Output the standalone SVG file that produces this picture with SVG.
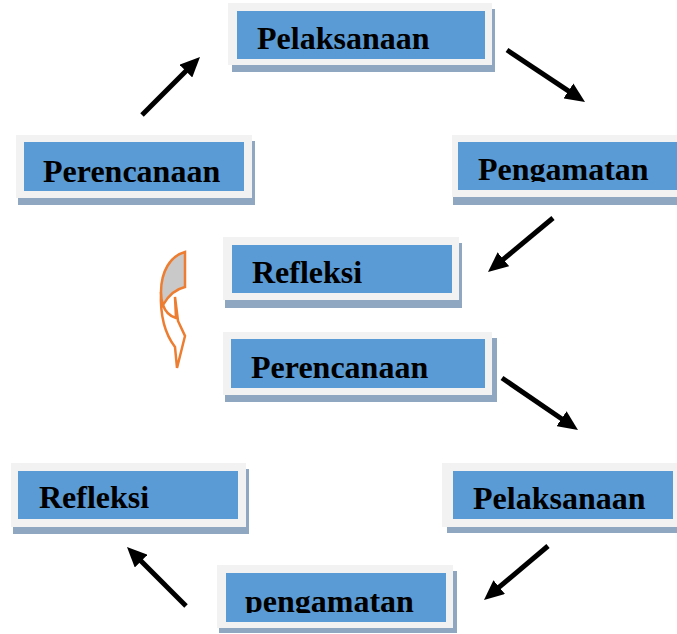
<svg xmlns="http://www.w3.org/2000/svg" width="677" height="634" viewBox="0 0 677 634">
<style>
.sh{fill:#8FA7C0}
.out{fill:#F2F2F2}
.in{fill:#5B9BD5}
.t{font-family:"Liberation Serif","Times New Roman",serif;font-weight:bold;font-size:32px;fill:#000}
.ar{stroke:#000;stroke-width:5;fill:none;marker-end:url(#ah)}
</style>
<defs>
<marker id="ah" markerUnits="userSpaceOnUse" markerWidth="20" markerHeight="18" refX="4" refY="9" orient="auto">
<path d="M0,0 L20,9 L0,18 z" fill="#000"/>
</marker>
<clipPath id="c3"><rect x="458" y="142" width="230" height="40"/></clipPath>
<clipPath id="c8"><rect x="226" y="573" width="220" height="40"/></clipPath>
</defs>
<rect width="677" height="634" fill="#fff"/>
<g id="n1">
<rect class="sh" x="232" y="9" width="263" height="63"/>
<rect class="out" x="228" y="3" width="264" height="62"/>
<rect class="in" x="237" y="11" width="248" height="48"/>
<text class="t" x="257" y="49">Pelaksanaan</text>
</g>
<g id="n2">
<rect class="sh" x="18" y="141" width="237" height="64"/>
<rect class="out" x="16" y="135" width="236" height="63"/>
<rect class="in" x="24" y="142" width="220" height="49"/>
<text class="t" x="43" y="182">Perencanaan</text>
</g>
<g id="n3">
<rect class="sh" x="453" y="141" width="240" height="64"/>
<rect class="out" x="452" y="135" width="240" height="62"/>
<rect class="in" x="458" y="142" width="230" height="48"/>
<text class="t" x="478" y="180" clip-path="url(#c3)">Pengamatan</text>
</g>
<g id="n4">
<rect class="sh" x="225" y="243" width="237" height="65"/>
<rect class="out" x="223" y="237" width="236" height="63"/>
<rect class="in" x="232" y="245" width="220" height="48"/>
<text class="t" x="252" y="283">Refleksi</text>
</g>
<g id="n5">
<rect class="sh" x="225" y="338" width="272" height="64"/>
<rect class="out" x="223" y="332" width="269" height="63"/>
<rect class="in" x="231" y="339" width="254" height="49"/>
<text class="t" x="251" y="378">Perencanaan</text>
</g>
<g id="n6">
<rect class="sh" x="13" y="469" width="236" height="65"/>
<rect class="out" x="11" y="463" width="235" height="64"/>
<rect class="in" x="18" y="471" width="220" height="48"/>
<text class="t" x="39" y="508">Refleksi</text>
</g>
<g id="n7">
<rect class="sh" x="447" y="469" width="240" height="64"/>
<rect class="out" x="442" y="463" width="240" height="64"/>
<rect class="in" x="453" y="471" width="220" height="48"/>
<text class="t" x="473" y="509">Pelaksanaan</text>
</g>
<g id="n8">
<rect class="sh" x="219" y="571" width="238" height="62"/>
<rect class="out" x="217" y="565" width="236" height="63"/>
<rect class="in" x="226" y="573" width="220" height="49"/>
<text class="t" x="245" y="612" clip-path="url(#c8)">pengamatan</text>
</g>
<g id="curved-arrow" stroke="#ED7D31" stroke-width="2.5" stroke-linejoin="miter">
<path d="M161,292 C160,316 165,334 175,347 L177,368 L185,336 L178,321 L175,297 L176,318 C169,316 165,311 163,305" fill="#fff"/>
<path d="M185,252 C170,256 161,272 161,292 C161,298 162,302 163,305 C168,296 176,289 185,287 Z" fill="#C9C9C9"/>
</g>
<g id="connectors">
<line class="ar" x1="142" y1="115" x2="188.7" y2="68.3"/>
<line class="ar" x1="507" y1="50" x2="571.7" y2="93.1"/>
<line class="ar" x1="553" y1="218" x2="500.3" y2="261.8"/>
<line class="ar" x1="502" y1="378" x2="564.8" y2="421"/>
<line class="ar" x1="548" y1="546" x2="496.2" y2="589.7"/>
<line class="ar" x1="186" y1="606" x2="138.3" y2="558.3"/>
</g>
</svg>
